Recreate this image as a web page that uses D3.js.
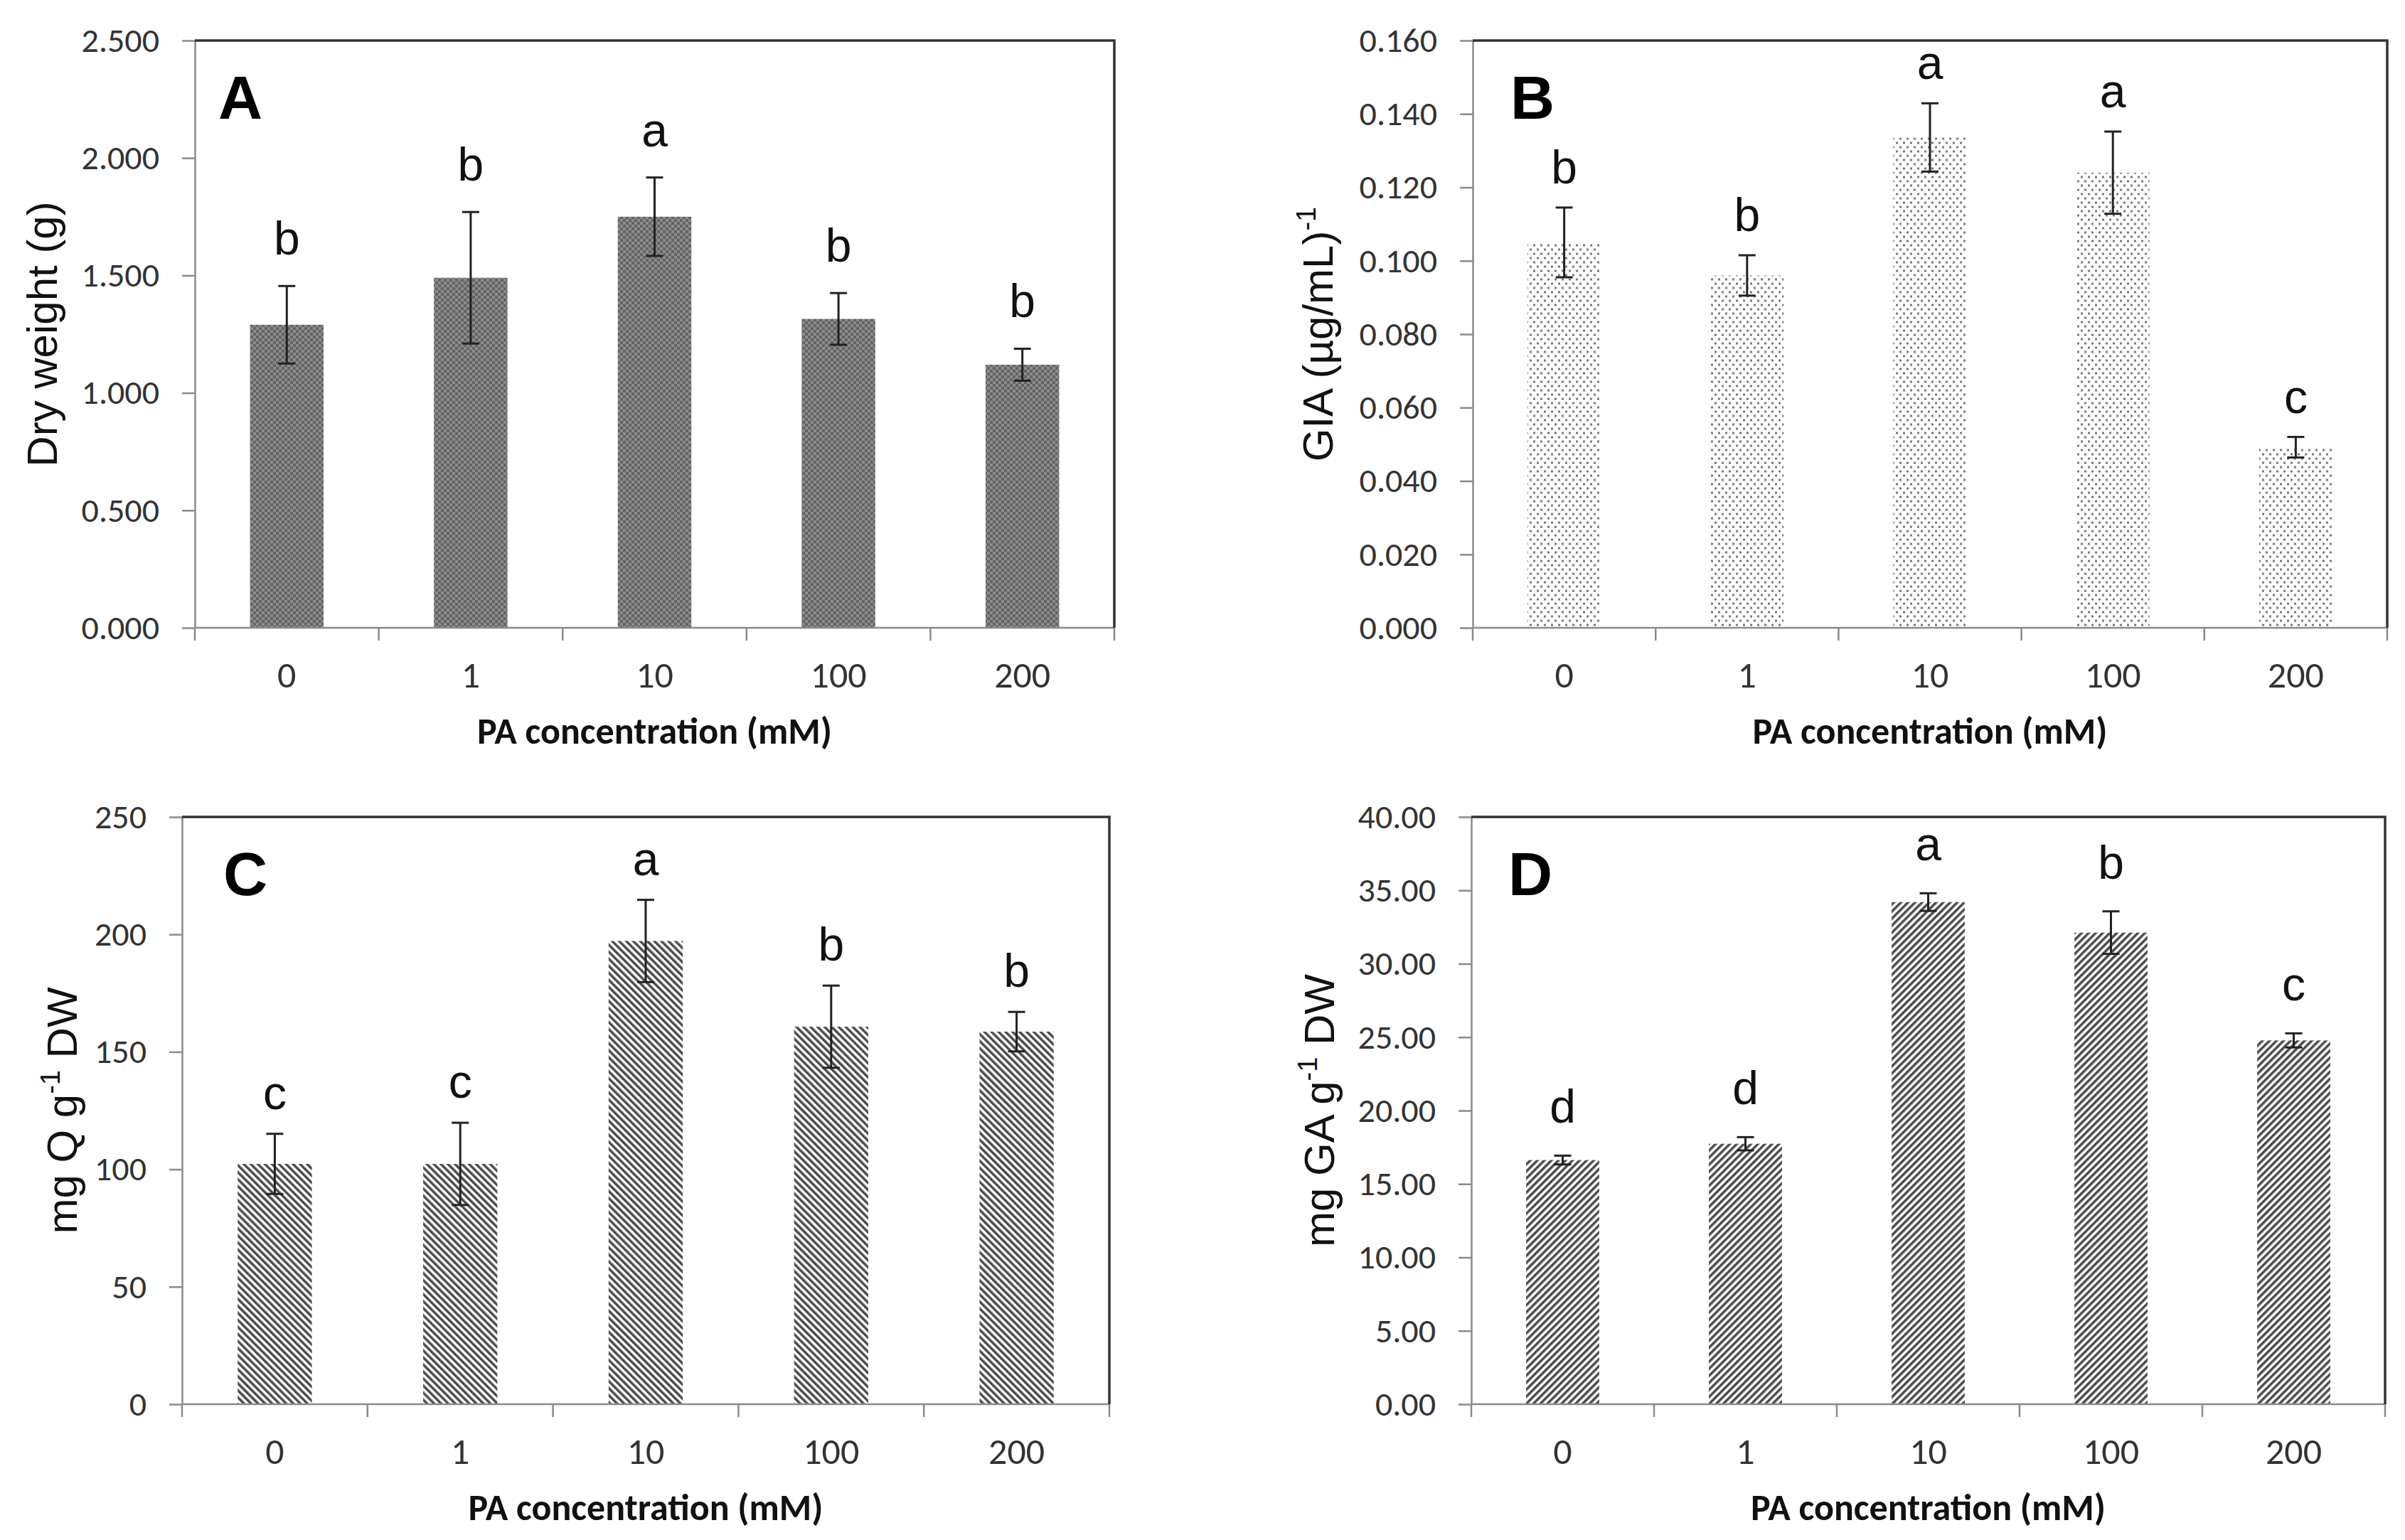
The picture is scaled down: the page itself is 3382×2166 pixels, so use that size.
<!DOCTYPE html>
<html>
<head>
<meta charset="utf-8">
<script src="https://cdn.jsdelivr.net/npm/d3@7"></script>
<style>
  body { margin: 0; background: #fff; }
  svg { display: block; }
</style>
</head>
<body>
<svg id="chart"></svg>
<script>
// PA concentration (mM)
const categories = ["0", "1", "10", "100", "200"];

// A - dry weight (g)
const dryWeight    = [1.290, 1.490, 1.750, 1.315, 1.120];
const dryWeightErr = [0.165, 0.280, 0.167, 0.110, 0.068];
const dryWeightSig = ["b", "b", "a", "b", "b"];
const dryWeightTicks = [0, 0.5, 1, 1.5, 2, 2.5];

// B - GIA (ug/mL)^-1
const gia    = [0.1050, 0.0960, 0.1336, 0.1240, 0.0492];
const giaErr = [0.0095, 0.0055, 0.0093, 0.0112, 0.0028];
const giaSig = ["b", "b", "a", "a", "c"];
const giaTicks = [0, 0.02, 0.04, 0.06, 0.08, 0.10, 0.12, 0.14, 0.16];

// C - mg Q g-1 DW
const flavonoids    = [102.3, 102.3, 197.2, 160.7, 158.6];
const flavonoidsErr = [12.8, 17.5, 17.5, 17.5, 8.4];
const flavonoidsSig = ["c", "c", "a", "b", "b"];
const flavonoidsTicks = [0, 50, 100, 150, 200, 250];

// D - mg GA g-1 DW
const phenolics    = [16.63, 17.74, 34.20, 32.12, 24.78];
const phenolicsErr = [0.30, 0.45, 0.60, 1.45, 0.48];
const phenolicsSig = ["d", "d", "a", "b", "c"];
const phenolicsTicks = [0, 5, 10, 15, 20, 25, 30, 35, 40];

const W = 3382, H = 2166;
const svg = d3.select("#chart").attr("width", W).attr("height", H);
svg.append("rect").attr("width", W).attr("height", H).attr("fill", "#fff");

const numFont = "Carlito, 'Liberation Sans Narrow', 'DejaVu Sans Condensed', 'Liberation Sans', sans-serif";
const txtFont = "'Liberation Sans', Arial, sans-serif";

// fill patterns
const defs = svg.append("defs");
let p = defs.append("pattern").attr("id", "patA").attr("patternUnits", "userSpaceOnUse")
    .attr("width", 8).attr("height", 8);
p.append("rect").attr("width", 8).attr("height", 8).attr("fill", "#8c8c8c");
p.append("rect").attr("width", 4).attr("height", 4).attr("fill", "#646464");
p.append("rect").attr("x", 4).attr("y", 4).attr("width", 4).attr("height", 4).attr("fill", "#646464");

p = defs.append("pattern").attr("id", "patB").attr("patternUnits", "userSpaceOnUse")
    .attr("width", 10).attr("height", 12);
p.append("rect").attr("width", 10).attr("height", 12).attr("fill", "#fff");
p.append("rect").attr("x", 1).attr("y", 1.5).attr("width", 3).attr("height", 3).attr("fill", "#7a7a7a");
p.append("rect").attr("x", 6).attr("y", 7.5).attr("width", 3).attr("height", 3).attr("fill", "#7a7a7a");

["patC", "patD"].forEach(function(id, i) {
  const s = defs.append("pattern").attr("id", id).attr("patternUnits", "userSpaceOnUse")
      .attr("width", 7).attr("height", 7)
      .attr("patternTransform", i == 0 ? "rotate(-45)" : "rotate(45)");
  s.append("rect").attr("width", 7).attr("height", 7).attr("fill", "#fff");
  s.append("rect").attr("width", 3.5).attr("height", 7).attr("fill", "#4a4a4a");
});

const panels = [
  { tag: "A", values: dryWeight, err: dryWeightErr, sig: dryWeightSig, ticks: dryWeightTicks,
    fmt: d3.format(".3f"), fill: "url(#patA)", label: ["Dry weight (g)"],
    x0: 274, x1: 1567, y0: 57, y1: 883, tagDx: 33, labelX: 80, gap: 44 },
  { tag: "B", values: gia, err: giaErr, sig: giaSig, ticks: giaTicks,
    fmt: d3.format(".3f"), fill: "url(#patB)", label: ["GIA (µg/mL)", "-1"],
    x0: 2071, x1: 3357, y0: 57, y1: 883, tagDx: 53, labelX: 1874, gap: 34 },
  { tag: "C", values: flavonoids, err: flavonoidsErr, sig: flavonoidsSig, ticks: flavonoidsTicks,
    fmt: d3.format("d"), fill: "url(#patC)", label: ["mg Q g", "-1", " DW"],
    x0: 256, x1: 1560, y0: 1149, y1: 1975, tagDx: 58, labelX: 108, gap: 35 },
  { tag: "D", values: phenolics, err: phenolicsErr, sig: phenolicsSig, ticks: phenolicsTicks,
    fmt: d3.format(".2f"), fill: "url(#patD)", label: ["mg GA g", "-1", " DW"],
    x0: 2069, x1: 3354, y0: 1149, y1: 1975, tagDx: 52, labelX: 1876, gap: 46 }
];

panels.forEach(function(P) {
  const x = d3.scaleBand().domain(categories).range([P.x0, P.x1])
      .paddingInner(0.6).paddingOuter(0.3);
  const y = d3.scaleLinear().domain([P.ticks[0], P.ticks[P.ticks.length - 1]]).range([P.y1, P.y0]);
  const g = svg.append("g");
  const rows = categories.map(function(c, i) {
    return { cat: c, v: P.values[i], e: P.err[i], s: P.sig[i] };
  });

  // bars
  g.selectAll("rect.bar").data(rows).enter().append("rect")
      .attr("class", "bar")
      .attr("x", d => x(d.cat))
      .attr("width", x.bandwidth())
      .attr("y", d => y(d.v))
      .attr("height", d => y(0) - y(d.v))
      .attr("fill", P.fill);

  // y axis
  const ya = g.append("g").attr("transform", `translate(${P.x0},0)`)
      .call(d3.axisLeft(y).tickValues(P.ticks).tickFormat(P.fmt).tickSize(18).tickSizeOuter(0).tickPadding(32));
  ya.select(".domain").attr("stroke", "#8a8a8a").attr("stroke-width", 2.5);
  ya.selectAll(".tick line").attr("stroke", "#8a8a8a").attr("stroke-width", 2.5);
  ya.selectAll(".tick text").attr("font-family", numFont).attr("font-size", 48).attr("fill", "#333");

  // x axis (ticks between categories, labels under bars)
  const step = x.step();
  const edges = d3.range(categories.length + 1).map(i => P.x0 + i * step);
  g.append("line").attr("x1", P.x0).attr("x2", P.x1).attr("y1", P.y1).attr("y2", P.y1)
      .attr("stroke", "#8a8a8a").attr("stroke-width", 2.5);
  g.selectAll("line.xt").data(edges).enter().append("line").attr("class", "xt")
      .attr("x1", d => d).attr("x2", d => d).attr("y1", P.y1).attr("y2", P.y1 + 18)
      .attr("stroke", "#8a8a8a").attr("stroke-width", 2.5);
  g.selectAll("text.xl").data(categories).enter().append("text").attr("class", "xl")
      .attr("x", d => x(d) + x.bandwidth() / 2).attr("y", P.y1 + 84)
      .attr("text-anchor", "middle").attr("font-family", numFont).attr("font-size", 52)
      .attr("fill", "#333").text(d => d);

  // top and right border of the plot area
  g.append("path")
      .attr("d", `M${P.x0},${P.y0}H${P.x1}V${P.y1}`)
      .attr("fill", "none").attr("stroke", "#333").attr("stroke-width", 3.5);

  // error bars
  const cap = 12;
  const eb = g.selectAll("g.err").data(rows).enter().append("g").attr("class", "err")
      .attr("stroke", "#222").attr("stroke-width", 3);
  eb.append("line")
      .attr("x1", d => x(d.cat) + x.bandwidth() / 2).attr("x2", d => x(d.cat) + x.bandwidth() / 2)
      .attr("y1", d => y(d.v - d.e)).attr("y2", d => y(d.v + d.e));
  eb.append("line")
      .attr("x1", d => x(d.cat) + x.bandwidth() / 2 - cap).attr("x2", d => x(d.cat) + x.bandwidth() / 2 + cap)
      .attr("y1", d => y(d.v + d.e)).attr("y2", d => y(d.v + d.e));
  eb.append("line")
      .attr("x1", d => x(d.cat) + x.bandwidth() / 2 - cap).attr("x2", d => x(d.cat) + x.bandwidth() / 2 + cap)
      .attr("y1", d => y(d.v - d.e)).attr("y2", d => y(d.v - d.e));

  // significance letters
  g.selectAll("text.sig").data(rows).enter().append("text").attr("class", "sig")
      .attr("x", d => x(d.cat) + x.bandwidth() / 2)
      .attr("y", d => y(d.v + d.e) - P.gap)
      .attr("text-anchor", "middle").attr("font-family", txtFont).attr("font-size", 66)
      .attr("fill", "#111").text(d => d.s);

  // panel tag
  g.append("text").attr("x", P.x0 + P.tagDx).attr("y", P.y0 + 110)
      .attr("font-family", txtFont).attr("font-weight", "bold").attr("font-size", 86)
      .attr("fill", "#000").text(P.tag);

  // y title
  const yt = g.append("text")
      .attr("transform", `translate(${P.labelX},${(P.y0 + P.y1) / 2}) rotate(-90)`)
      .attr("text-anchor", "middle").attr("font-family", txtFont).attr("font-size", 60)
      .attr("fill", "#111");
  yt.append("tspan").text(P.label[0]);
  if (P.label.length > 1) {
    yt.append("tspan").attr("font-size", 38).attr("dy", -24).text(P.label[1]);
    if (P.label[2]) yt.append("tspan").attr("dy", 24).text(P.label[2]);
  }

  // x title
  g.append("text").attr("x", (P.x0 + P.x1) / 2).attr("y", P.y1 + 163)
      .attr("text-anchor", "middle").attr("font-family", numFont).attr("font-weight", "bold")
      .attr("font-size", 52).attr("fill", "#111").text("PA concentration (mM)");
});
</script>
</body>
</html>
